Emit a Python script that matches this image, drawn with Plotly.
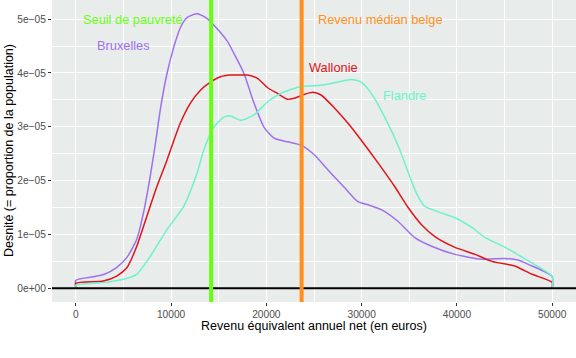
import plotly.graph_objects as go

# ---- data (density values in units of 1e-5) ----
bxl_x = [0, 0, 2000, 3000, 4300, 5350, 6400, 7100, 7800, 8330, 8860, 9570, 10270, 10970, 11680, 12730,
         13790, 14840, 15900, 16600, 17650, 18700, 19760, 20810, 22230, 23630, 25030, 26450, 28200,
         29610, 30700, 32070, 33830, 35580, 37340, 39800, 42620, 45000, 46500, 47540, 50000, 50000]
bxl_y = [0, 0.148, 0.22, 0.26, 0.39, 0.57, 0.91, 1.40, 2.07, 2.66, 3.31, 3.99, 4.47, 4.84, 5.03, 5.10,
         5.01, 4.82, 4.59, 4.36, 3.99, 3.44, 2.99, 2.79, 2.72, 2.66, 2.48, 2.20, 1.87,
         1.61, 1.55, 1.46, 1.24, 0.94, 0.78, 0.63, 0.54, 0.555, 0.52, 0.44, 0.22, 0]

wal_x = [0, 0, 2880, 4290, 5350, 6400, 7460, 8510, 9570, 10300, 10970, 12030, 13080, 14135, 15190, 16240,
         17300, 18000, 19060, 20110, 21170, 22230, 22930, 23810, 24860, 25740, 27140, 28550, 29960,
         31720, 33470, 34880, 36290, 37690, 39800, 41910, 43670, 46130, 47890, 50000, 50000]
wal_y = [0, 0.092, 0.135, 0.227, 0.38, 0.78, 1.34, 1.89, 2.38, 2.75, 3.07, 3.44, 3.68, 3.83, 3.93, 3.96,
         3.96, 3.96, 3.90, 3.73, 3.62, 3.51, 3.53, 3.59, 3.64, 3.59, 3.35, 3.07, 2.75,
         2.33, 1.89, 1.50, 1.18, 0.96, 0.76, 0.63, 0.50, 0.41, 0.26, 0.11, 0]

fla_x = [0, 0, 2880, 4990, 6400, 7800, 9570, 11320, 12730, 13430, 14480, 15540, 16240, 17300, 18700,
         20110, 21520, 23630, 25740, 27500, 28900, 29960, 31010, 32420, 33900, 35000, 35800, 36640,
         38040, 39800, 41560, 42970, 45070, 47190, 50000, 50000]
fla_y = [0, 0.061, 0.105, 0.166, 0.259, 0.59, 1.09, 1.52, 2.14, 2.57, 2.99, 3.18, 3.20, 3.12, 3.22,
         3.46, 3.62, 3.75, 3.77, 3.83, 3.88, 3.83, 3.62, 3.18, 2.62, 2.10, 1.75, 1.52,
         1.42, 1.31, 1.13, 0.94, 0.76, 0.54, 0.22, 0]

poverty_line = 14200
median_income = 23700

x_ticks = [0, 10000, 20000, 30000, 40000, 50000]
y_ticks = [0, 1e-5, 2e-5, 3e-5, 4e-5, 5e-5]
y_tick_labels = ["0e+00", "1e\u221205", "2e\u221205", "3e\u221205", "4e\u221205", "5e\u221205"]

C_BXL = "#A070EE"
C_WAL = "#E0141C"
C_FLA = "#6CF2CC"
C_POV = "#66FF11"
C_MED = "#FF9020"

FONT = "Liberation Sans, Arial, sans-serif"

fig = go.Figure()
for xs, ys, col in [(bxl_x, bxl_y, C_BXL), (wal_x, wal_y, C_WAL), (fla_x, fla_y, C_FLA)]:
    fig.add_trace(go.Scatter(x=xs, y=[v * 1e-5 for v in ys], mode="lines",
                             line=dict(color=col, width=1.5, shape="spline", smoothing=0.6),
                             showlegend=False, hoverinfo="skip"))

fig.add_shape(type="line", xref="paper", x0=0, x1=1, yref="y", y0=0, y1=0,
              line=dict(color="black", width=2), layer="above")
fig.add_shape(type="line", xref="x", x0=poverty_line, x1=poverty_line, yref="paper", y0=0, y1=1,
              line=dict(color=C_POV, width=4), layer="above")
fig.add_shape(type="line", xref="x", x0=median_income, x1=median_income, yref="paper", y0=0, y1=1,
              line=dict(color=C_MED, width=4), layer="above")

labels = [
    ("Seuil de pauvreté", 6000, 5.0e-5, C_POV),
    ("Bruxelles", 4990, 4.51e-5, C_BXL),
    ("Revenu médian belge", 32030, 5.0e-5, C_MED),
    ("Wallonie", 27000, 4.1e-5, C_WAL),
    ("Flandre", 34550, 3.59e-5, C_FLA),
]
for txt, x, y, col in labels:
    fig.add_annotation(x=x, y=y, text=txt, showarrow=False, xanchor="center", yanchor="middle",
                       font=dict(family=FONT, size=12.8, color=col))

# axis titles
fig.add_annotation(xref="paper", yref="paper", x=0.5, y=-24 / 302, text="Revenu équivalent annuel net (en euros)",
                   showarrow=False, xanchor="center", yanchor="middle",
                   font=dict(family=FONT, size=12.5, color="black"))
fig.add_annotation(xref="paper", yref="paper", x=-43 / 524, y=0.5, text="Desnité (= proportion de la population)",
                   showarrow=False, xanchor="center", yanchor="middle", textangle=-90,
                   font=dict(family=FONT, size=12.5, color="black"))

fig.update_layout(
    width=576, height=358,
    margin=dict(l=52, r=0, t=0, b=56),
    paper_bgcolor="white",
    plot_bgcolor="#E8ECEA",
    font=dict(family=FONT),
)
fig.update_xaxes(
    range=[-2500, 52500], tickvals=x_ticks, ticktext=[str(v) for v in x_ticks],
    showgrid=True, gridcolor="white", gridwidth=1.4, zeroline=False, automargin=False,
    ticks="outside", ticklen=3, tickcolor="#333333", tickwidth=1,
    tickfont=dict(size=10.2, color="#4D4D4D", family=FONT),
    minor=dict(dtick=5000, tick0=5000, showgrid=True, gridcolor="white", gridwidth=0.6, ticks=""),
    showline=False,
)
fig.update_yaxes(
    range=[-0.255e-5, 5.355e-5], tickvals=y_ticks, ticktext=y_tick_labels,
    showgrid=True, gridcolor="white", gridwidth=1.4, zeroline=False, automargin=False,
    ticks="outside", ticklen=3, tickcolor="#333333", tickwidth=1,
    tickfont=dict(size=10.2, color="#4D4D4D", family=FONT),
    minor=dict(dtick=0.5e-5, tick0=0.5e-5, showgrid=True, gridcolor="white", gridwidth=0.6, ticks=""),
    showline=False,
)

fig.write_html("out.html", config={"displayModeBar": False},
               post_script="document.body.style.margin='0';document.body.style.padding='0';")
